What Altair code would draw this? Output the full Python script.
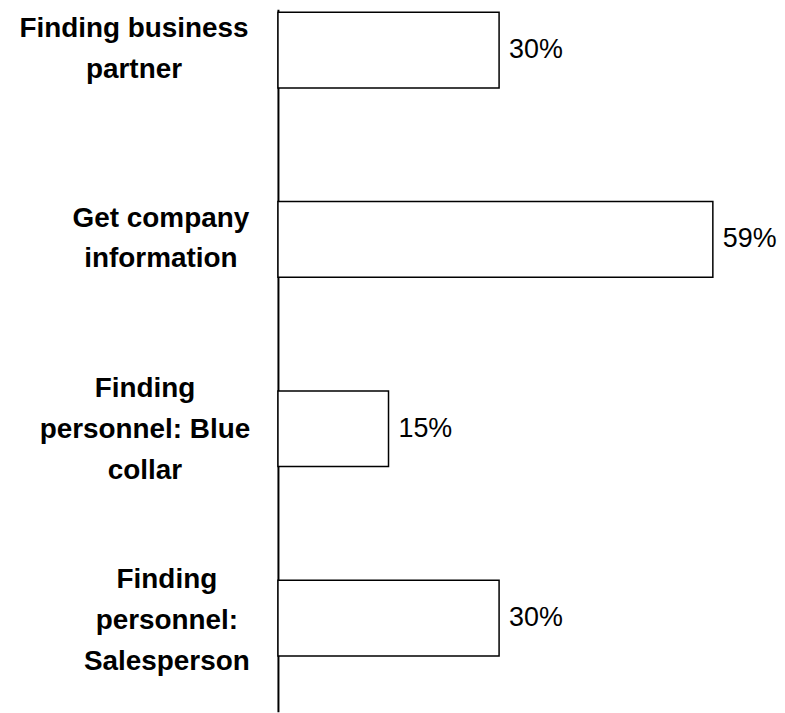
import altair as alt
import pandas as pd

categories = [
    "Finding business|partner",
    "Get company|information",
    "Finding|personnel: Blue|collar",
    "Finding|personnel:|Salesperson",
]
values = [30, 59, 15, 30]
value_labels = ["30%", "59%", "15%", "30%"]
label_pad = [145, 118, 134, 112]
label_shift = [-21, -21, -40, -38]

df = pd.DataFrame({"cat": categories, "val": values, "txt": value_labels})

FONT = "Liberation Sans, Arial, sans-serif"

pad_cond = {
    "condition": [
        {"test": f"datum.value == '{c}'", "value": p}
        for c, p in zip(categories, label_pad)
    ],
    "value": 120,
}
off_cond = {
    "condition": [
        {"test": f"datum.value == '{c}'", "value": s}
        for c, s in zip(categories, label_shift)
    ],
    "value": 0,
}

y = alt.Y(
    "cat:N",
    sort=categories,
    title=None,
    scale=alt.Scale(paddingInner=0.6, paddingOuter=0.155, align=0.05),
    axis=alt.Axis(
        domain=True,
        domainColor="black",
        domainWidth=2,
        ticks=False,
        labelExpr="split(datum.value, '|')",
        labelFont=FONT,
        labelFontSize=28,
        labelFontWeight="bold",
        labelColor="black",
        labelAlign="center",
        labelBaseline="middle",
        labelLineHeight=41,
        labelLimit=600,
        labelPadding=pad_cond,
        labelOffset=off_cond,
    ),
)
x = alt.X("val:Q", scale=alt.Scale(domain=[0, 65]), axis=None)

bars = alt.Chart(df).mark_bar(fill="white", stroke="black", strokeWidth=1.5).encode(x=x, y=y)
text = alt.Chart(df).mark_text(
    align="left", baseline="middle", dx=10, font=FONT, fontSize=27, color="black"
).encode(x=x, y=y, text="txt:N")

chart = (
    alt.layer(bars, text)
    .properties(
        width=481,
        height=705,
        autosize=alt.AutoSizeParams(type="none"),
        padding={"left": 271, "top": 0, "right": 20, "bottom": 0},
        background="white",
    )
    .configure_view(stroke=None)
)

chart.save("out.html", embed_options={"renderer": "svg", "actions": False})
